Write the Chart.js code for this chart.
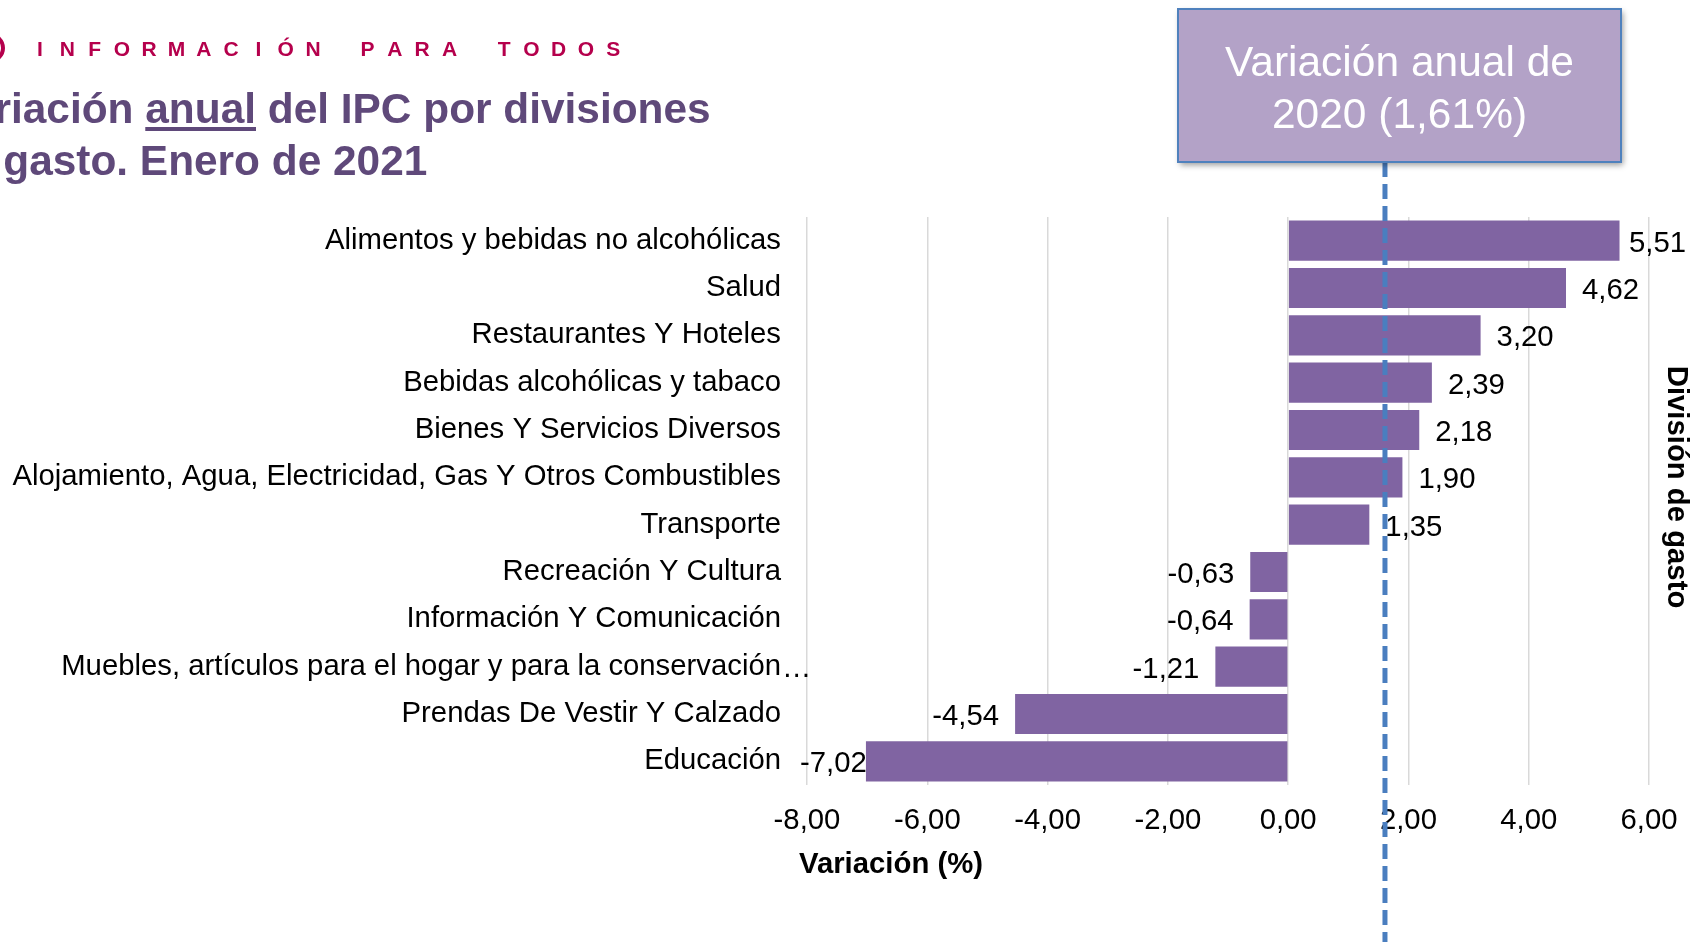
<!DOCTYPE html>
<html>
<head>
<meta charset="utf-8">
<script src="https://cdn.jsdelivr.net/npm/chart.js@4.4.1/dist/chart.umd.min.js"></script>
<style>
  html, body { margin: 0; padding: 0; background: #fff; }
  canvas { display: block; }
</style>
</head>
<body>
<canvas id="ipc" width="1692" height="942"></canvas>
<script>
// divisiones de gasto (de arriba abajo) y su variación anual, enero 2021
const divisiones = [
  'Alimentos y bebidas no alcohólicas',
  'Salud',
  'Restaurantes Y Hoteles',
  'Bebidas alcohólicas y tabaco',
  'Bienes Y Servicios Diversos',
  'Alojamiento, Agua, Electricidad, Gas Y Otros Combustibles',
  'Transporte',
  'Recreación Y Cultura',
  'Información Y Comunicación',
  'Muebles, artículos para el hogar y para la conservación…',
  'Prendas De Vestir Y Calzado',
  'Educación'
];
const variacion = [5.51, 4.62, 3.20, 2.39, 2.18, 1.90, 1.35, -0.63, -0.64, -1.21, -4.54, -7.02];

// eje x
const ejeMin = -8;
const ejeMax = 6;
const ejePaso = 2;

// referencia: variación anual de 2020
const variacion2020 = 1.61;

const FONT = '"Liberation Sans", Arial, sans-serif';
const fmt = v => v.toFixed(2).replace('.', ',');

// etiquetas de valor al lado de cada barra (+ los "…" de las categorías cortadas)
const etiquetas = {
  id: 'etiquetas',
  afterDatasetsDraw(chart) {
    const ctx = chart.ctx;
    const meta = chart.getDatasetMeta(0);
    ctx.save();
    ctx.font = '29.3px ' + FONT;
    ctx.fillStyle = '#000';
    ctx.textBaseline = 'middle';
    meta.data.forEach((bar, i) => {
      const v = variacion[i];
      const txt = fmt(v);
      const w = ctx.measureText(txt).width;
      if (v >= 0) {
        const x = Math.min(bar.x + 16, chart.width - 6 - w);
        ctx.textAlign = 'left';
        ctx.fillText(txt, x, bar.y + 3);
      } else {
        const x = Math.max(bar.x - 16, chart.chartArea.left - 7 + w);
        ctx.textAlign = 'right';
        ctx.fillText(txt, x, bar.y + 3);
      }
      if (divisiones[i].endsWith('…')) {
        ctx.textAlign = 'left';
        ctx.fillText('…', chart.chartArea.left - 25, bar.y + 2);
      }
    });
    ctx.restore();
  }
};

// cabecera, títulos, línea de 2020 y cuadro
const adornos = {
  id: 'adornos',
  afterDraw(chart) {
    const ctx = chart.ctx;
    const area = chart.chartArea;
    const xs = chart.scales.x;

    ctx.save();
    // logo recortado
    ctx.strokeStyle = '#b5004c';
    ctx.lineWidth = 4;
    ctx.beginPath();
    ctx.arc(-10, 48, 13, 0, Math.PI * 2);
    ctx.stroke();

    // INFORMACIÓN PARA TODOS
    const cab = 'INFORMACIÓN PARA TODOS';
    ctx.font = 'bold 21px ' + FONT;
    ctx.fillStyle = '#b5004c';
    ctx.textAlign = 'center';
    ctx.textBaseline = 'alphabetic';
    for (let i = 0; i < cab.length; i++) {
      ctx.fillText(cab[i], 40 + i * 27.3, 56);
    }

    // título
    ctx.font = 'bold 42.4px ' + FONT;
    ctx.fillStyle = '#5f497a';
    ctx.textAlign = 'left';
    const x0 = -55;
    ctx.fillText('Variación anual del IPC por divisiones', x0, 123);
    ctx.fillText('de gasto. Enero de 2021', x0 - 3, 175);
    const u0 = x0 + ctx.measureText('Variación ').width;
    const uw = ctx.measureText('anual').width;
    ctx.fillRect(u0, 127, uw, 4);

    // línea discontinua 2020
    const lx = xs.getPixelForValue(variacion2020);
    ctx.strokeStyle = '#4a7ebf';
    ctx.lineWidth = 5;
    ctx.setLineDash([15, 7]);
    ctx.beginPath();
    ctx.moveTo(lx, 162);
    ctx.lineTo(lx, chart.height);
    ctx.stroke();
    ctx.setLineDash([]);

    // cuadro
    ctx.save();
    ctx.shadowColor = 'rgba(0,0,0,0.4)';
    ctx.shadowBlur = 6;
    ctx.shadowOffsetX = 2;
    ctx.shadowOffsetY = 3;
    ctx.fillStyle = '#b3a2c7';
    ctx.fillRect(1178, 9, 443, 153);
    ctx.restore();
    ctx.strokeStyle = '#4f81bd';
    ctx.lineWidth = 2;
    ctx.strokeRect(1178, 9, 443, 153);
    ctx.font = '42.5px ' + FONT;
    ctx.fillStyle = '#fff';
    ctx.textAlign = 'center';
    ctx.fillText('Variación anual de', 1399.5, 76);
    ctx.fillText('2020 (' + fmt(variacion2020) + '%)', 1399.5, 128);

    // títulos de ejes
    ctx.font = 'bold 29.3px ' + FONT;
    ctx.fillStyle = '#000';
    ctx.textAlign = 'left';
    ctx.textBaseline = 'middle';
    ctx.fillText('Variación (%)', 799, 865);

    ctx.translate(1676, (area.top + area.bottom) / 2 - 14);
    ctx.rotate(Math.PI / 2);
    ctx.textAlign = 'center';
    ctx.fillText('División de gasto', 0, 0);
    ctx.restore();
  }
};

new Chart(document.getElementById('ipc'), {
  type: 'bar',
  data: {
    labels: divisiones,
    datasets: [{
      data: variacion,
      backgroundColor: '#8064a2',
      borderWidth: 0,
      barPercentage: 0.85,
      categoryPercentage: 1
    }]
  },
  options: {
    indexAxis: 'y',
    responsive: false,
    animation: false,
    layout: { padding: { left: 0, right: 43, top: 217, bottom: 0 } },
    plugins: { legend: { display: false }, tooltip: { enabled: false } },
    scales: {
      x: {
        min: ejeMin,
        max: ejeMax,
        ticks: {
          stepSize: ejePaso,
          color: '#000',
          font: { family: FONT, size: 29.3 },
          padding: 18,
          callback: v => fmt(v)
        },
        grid: { color: '#d9d9d9', lineWidth: 1.5, drawTicks: false },
        border: { display: false },
        afterFit: s => { s.height = 157; s.paddingRight = 0; s.paddingLeft = 0; }
      },
      y: {
        ticks: {
          color: '#000',
          font: { family: FONT, size: 29.3 },
          padding: 26,
          autoSkip: false,
          callback: function (v) {
            return this.getLabelForValue(v).replace('…', '');
          }
        },
        grid: { display: false, drawTicks: false },
        border: { display: false },
        afterFit: s => { s.width = 807; }
      }
    }
  },
  plugins: [etiquetas, adornos]
});
</script>
</body>
</html>
